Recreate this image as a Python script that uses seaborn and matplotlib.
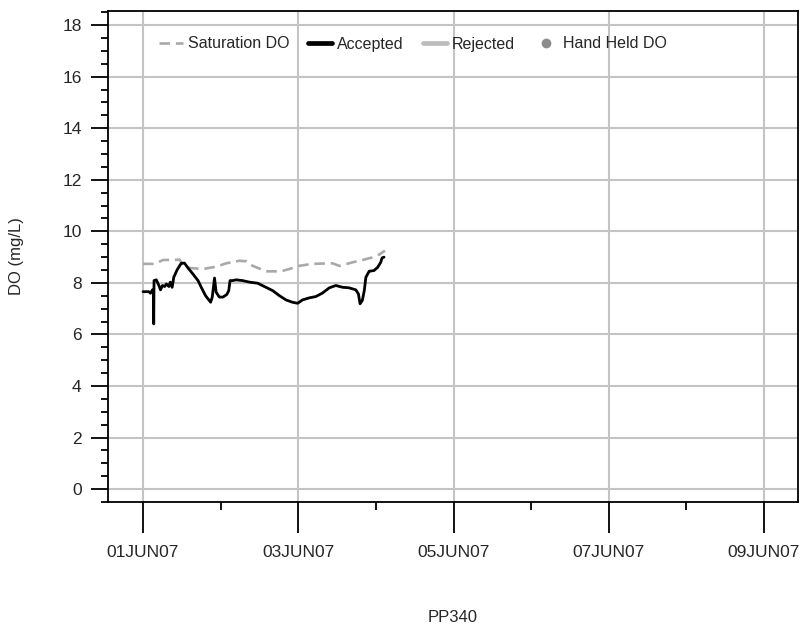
import matplotlib
matplotlib.use("Agg")
import matplotlib.pyplot as plt
import seaborn as sns
import pandas as pd
import numpy as np
from matplotlib.ticker import MultipleLocator

sns.set_style("white")
plt.rcParams['font.family'] = ['Liberation Sans', 'DejaVu Sans']

# ---- data ----
start = pd.Timestamp("2007-06-01 00:00")
accepted_hours = [0, 1.8, 2.3, 2.9, 3.2, 3.3, 3.4, 4.1, 4.9, 5.4, 6.0, 6.7, 7.2, 8.0, 8.4, 9.0,
                  9.5, 10.5, 11.8, 12.8, 13.9, 15.4, 17.0, 18.0, 19.3, 20.9, 21.4, 22.1, 22.6,
                  23.6, 24.7, 25.9, 26.5, 26.9, 27.7, 28.8, 30.8, 32.9, 35.4, 38.0, 40.1, 42.1,
                  44.2, 46.2, 47.8, 49.3, 51.4, 53.4, 55.4, 57.6, 59.6, 61.7, 63.7, 65.8, 66.6,
                  67.1, 67.8, 68.4, 68.9, 69.9, 71.4, 72.5, 73.5, 73.9, 74.5]
accepted_do = [7.66, 7.66, 7.60, 7.73, 7.72, 6.41, 8.09, 8.12, 7.90, 7.73, 7.90, 7.86, 7.96, 7.86,
               8.03, 7.83, 8.22, 8.50, 8.76, 8.77, 8.58, 8.35, 8.09, 7.83, 7.51, 7.25, 7.45, 8.19,
               7.64, 7.45, 7.45, 7.55, 7.70, 8.09, 8.09, 8.12, 8.09, 8.03, 7.99, 7.83, 7.70, 7.51,
               7.34, 7.25, 7.21, 7.34, 7.42, 7.47, 7.60, 7.81, 7.90, 7.83, 7.81, 7.73, 7.57, 7.19,
               7.32, 7.70, 8.22, 8.45, 8.48, 8.60, 8.80, 8.97, 9.00]
sat_hours = [0, 3.6, 6.2, 11.3, 12.2, 14.4, 18.5, 22.6, 25.7, 29.8, 31.9, 33.8, 38.0, 42.7,
             46.3, 48.2, 52.3, 58.6, 60.7, 64.8, 67.9, 70.9, 73.0, 74.8]
sat_do = [8.74, 8.74, 8.89, 8.90, 8.74, 8.58, 8.54, 8.63, 8.76, 8.86, 8.84, 8.67, 8.45, 8.45,
          8.58, 8.66, 8.74, 8.76, 8.66, 8.80, 8.89, 8.99, 9.10, 9.25]
rejected_hours = []
rejected_do = []
handheld_hours = []
handheld_do = []

tick_dates = ["2007-06-01", "2007-06-03", "2007-06-05", "2007-06-07", "2007-06-09"]
tick_labels = ["01JUN07", "03JUN07", "05JUN07", "07JUN07", "09JUN07"]
minor_dates = ["2007-06-02", "2007-06-04", "2007-06-06", "2007-06-08"]

acc = pd.DataFrame({"time": start + pd.to_timedelta(accepted_hours, unit="h"), "do": accepted_do})
sat = pd.DataFrame({"time": start + pd.to_timedelta(sat_hours, unit="h"), "do": sat_do})

fig = plt.figure(figsize=(8.06, 6.30), dpi=100)
ax = fig.add_axes([108/806, (630-502)/630, 690/806, 491/630])

sns.lineplot(data=sat, x="time", y="do", ax=ax, color="#a9a9a9", lw=1.9,
             label="Saturation DO", zorder=3)
ax.lines[-1].set_dashes((4, 2.2))
sns.lineplot(data=acc, x="time", y="do", ax=ax, color="black", lw=2.0,
             label="Accepted", zorder=4)
ax.plot(start + pd.to_timedelta(rejected_hours, unit="h"), rejected_do,
        color="#bdbdbd", lw=3, label="Rejected")
ax.plot(start + pd.to_timedelta(handheld_hours, unit="h"), handheld_do,
        ls="none", marker="o", ms=6, color="#8c8c8c", label="Hand Held DO")

ax.set_xlim(pd.Timestamp("2007-05-31 13:10"), pd.Timestamp("2007-06-09 10:30"))
ax.set_ylim(-0.5, 18.55)

ax.set_xticks(pd.to_datetime(tick_dates))
ax.set_xticklabels(tick_labels)
ax.set_xticks(pd.to_datetime(minor_dates), minor=True)
ax.yaxis.set_major_locator(MultipleLocator(2))
ax.yaxis.set_minor_locator(MultipleLocator(0.5))

ax.grid(True, which="major", color="#c4c4c4", lw=1.5)
ax.set_axisbelow(True)
for s in ax.spines.values():
    s.set_color("black")
    s.set_linewidth(1.3)

ax.tick_params(axis="x", which="major", length=22, width=1.3, pad=9, labelsize=12.5,
               direction="out", bottom=True, color="black")
ax.tick_params(axis="x", which="minor", length=6, width=1.3, direction="out", bottom=True,
               color="black")
ax.tick_params(axis="y", which="major", length=12, width=1.3, pad=7, labelsize=12.5,
               direction="out", left=True, color="black")
ax.tick_params(axis="y", which="minor", length=5, width=1.3, direction="out", left=True,
               color="black")

ax.set_xlabel("PP340", fontsize=12)
ax.set_ylabel("DO (mg/L)", fontsize=12)
ax.xaxis.label.set_va("center")
ax.yaxis.label.set_va("center")
ax.xaxis.set_label_coords(0.5, (502-617)/491)
ax.yaxis.set_label_coords((17-108)/690, 0.5)

leg = ax.legend(loc="center left", bbox_to_anchor=((159-108)/690, (502-44)/491), ncol=4,
                frameon=False, fontsize=11.5, handlelength=1.5, handletextpad=0.3,
                columnspacing=1.2, borderpad=0, borderaxespad=0)
for ln in leg.get_lines():
    if ln.get_label() in ("Accepted", "Rejected"):
        ln.set_linewidth(3.4)

fig.savefig("out.png", dpi=100)
